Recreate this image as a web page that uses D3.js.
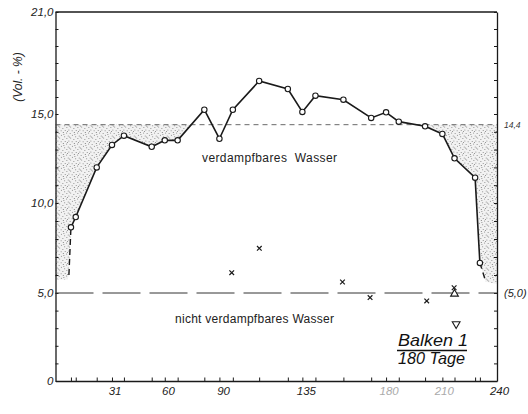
<!DOCTYPE html>
<html><head><meta charset="utf-8">
<script src="https://cdn.jsdelivr.net/npm/d3@7"></script>
<style>
body{margin:0;background:#fff;}
svg{display:block;font-family:"Liberation Sans",Arial,sans-serif;}
</style></head>
<body><svg id="c" width="528" height="414"></svg>
<script>
// ---- data ----
const days  = [8.4, 11, 22.4, 30.7, 37.2, 52.3, 59.4, 66.4, 80.9, 89.1, 96.4, 110.7, 126.3, 134.2, 141.3, 156.5, 171.6, 179.7, 186.6, 200.9, 210.3, 216.9, 228.1, 230.7];
const water = [8.65, 9.22, 12.0, 13.26, 13.78, 13.16, 13.52, 13.52, 15.25, 13.61, 15.25, 16.94, 16.47, 15.12, 16.08, 15.84, 14.78, 15.10, 14.57, 14.31, 13.88, 12.51, 11.42, 6.67];
const extDays   = [7.3, 233.9];     // dashed extrapolation ends (start, end)
const extValues = [6.0, 5.63];
const shadeBottom = [5.75, 5.5];    // lower edge of stippled zone at left / right border
const crossDays   = [95.8, 110.8, 156, 171, 201.8, 216.7];
const crossValues = [6.13, 7.48, 5.61, 4.74, 4.55, 5.29];
const triUp   = [{day: 216.9, v: 4.95}];
const triDown = [{day: 217.8, v: 3.24}];
const evapLimit = 14.4;
const nonEvap = 5.0;
const yTickValues = [0, 5, 10, 15, 21];
const yTickLabels = ["0", "5,0", "10,0", "15,0", "21,0"];
const xTickValues = [31, 60, 90, 135, 180, 210, 240];
const xTickLabels = ["31", "60", "90", "135", "180", "210", "240"];

// ---- scales ----
const svg = d3.select("#c");
const x = d3.scaleLinear().domain([0, 240]).range([55.5, 497]);
const y = d3.scaleLinear().domain([0, 5, 10, 15, 21]).range([381, 293, 203, 114, 12]);
const ink = "#1a1a1a";

// stipple pattern
const defs = svg.append("defs");
const pat = defs.append("pattern").attr("id","stip").attr("patternUnits","userSpaceOnUse")
  .attr("width",11).attr("height",11);
const dots = [[0.6,0.9],[4.1,1.6],[8.3,0.4],[2.2,3.9],[6.4,3.2],[9.7,4.8],[0.9,6.6],[4.7,6.1],[7.9,7.4],
              [2.9,9.1],[6.1,9.8],[10.2,9.6],[3.4,5.0],[8.9,2.5],[1.5,10.4]];
dots.forEach(d=>pat.append("circle").attr("cx",d[0]).attr("cy",d[1]).attr("r",0.5).attr("fill","#777"));

const pts = days.map((d,i)=>({day:d, v:water[i]}));

// shaded regions below the 14.4 limit
function crossAt(a,b,lvl){ const t=(lvl-a.v)/(b.v-a.v); return a.day+t*(b.day-a.day); }
let li = pts.findIndex(p=>p.v>=evapLimit);
const leftCross = crossAt(pts[li-1], pts[li], evapLimit);
const leftPoly = [{day:0,v:evapLimit},{day:leftCross,v:evapLimit}]
  .concat(pts.slice(0,li).reverse())
  .concat([{day:extDays[0],v:extValues[0]},{day:extDays[0]-0.8,v:shadeBottom[0]},{day:0,v:shadeBottom[0]}]);
let ri = pts.length-1; while(pts[ri].v<evapLimit) ri--;
const rightCross = crossAt(pts[ri], pts[ri+1], evapLimit);
const rightPoly = [{day:rightCross,v:evapLimit}]
  .concat(pts.slice(ri+1))
  .concat([{day:extDays[1],v:extValues[1]},{day:240,v:shadeBottom[1]},{day:240,v:evapLimit}]);
const poly = d3.line().x(d=>x(d.day)).y(d=>y(d.v));
svg.append("path").attr("d",poly(leftPoly)+"Z").attr("fill","#f2f2f2");
svg.append("path").attr("d",poly(rightPoly)+"Z").attr("fill","#f2f2f2");
svg.append("path").attr("d",poly(leftPoly)+"Z").attr("fill","url(#stip)");
svg.append("path").attr("d",poly(rightPoly)+"Z").attr("fill","url(#stip)");

// axes
const gy = svg.append("g").attr("transform",`translate(${x(0)},0)`)
  .call(d3.axisLeft(y).tickValues(d3.range(0,22,1)).tickSizeInner(-3).tickSizeOuter(0).tickFormat(""));
const gyl = svg.append("g").attr("transform",`translate(${x(0)},0)`)
  .call(d3.axisLeft(y).tickValues(yTickValues).tickSize(0).tickPadding(2).tickFormat((d,i)=>yTickLabels[i]));
const gr = svg.append("g").attr("transform",`translate(${x(240)},0)`)
  .call(d3.axisRight(y).tickValues(d3.range(0,22,1)).tickSizeInner(-3).tickSizeOuter(0).tickFormat(""));
const gx = svg.append("g").attr("transform",`translate(0,${y(0)})`)
  .call(d3.axisBottom(x).tickValues(days).tickSizeInner(-3.5).tickSizeOuter(0).tickFormat(""));
const gxl = svg.append("g").attr("transform",`translate(0,${y(0)})`)
  .call(d3.axisBottom(x).tickValues(xTickValues).tickSize(0).tickPadding(6).tickFormat((d,i)=>xTickLabels[i]));
[gy,gyl,gr,gx,gxl].forEach(g=>{
  g.select(".domain").attr("stroke",ink).attr("stroke-width",1.3);
  g.selectAll(".tick line").attr("stroke",ink).attr("stroke-width",1);
  g.selectAll("text").attr("font-size",11.5).attr("font-style","italic").attr("fill","#222");
});
gxl.selectAll(".tick text").attr("dx",2).attr("fill",(d)=> (d===180||d===210)?"#aaa":"#222");
gyl.select(".domain").remove(); gxl.select(".domain").remove();
// top frame
svg.append("line").attr("x1",x(0)).attr("x2",x(240)).attr("y1",y(21)).attr("y2",y(21))
  .attr("stroke",ink).attr("stroke-width",1.3);

// reference lines
svg.append("line").attr("x1",x(0)).attr("x2",x(240)).attr("y1",y(evapLimit)).attr("y2",y(evapLimit))
  .attr("stroke","#444").attr("stroke-width",0.8).attr("stroke-dasharray","5,4");
svg.append("line").attr("x1",x(0)).attr("x2",x(240)).attr("y1",y(nonEvap)).attr("y2",y(nonEvap))
  .attr("stroke","#333").attr("stroke-width",1).attr("stroke-dasharray","38,9");
svg.append("text").attr("x",x(240)+7).attr("y",y(evapLimit)+3).attr("font-size",8.5)
  .attr("font-style","italic").attr("fill","#333").text("14,4");
svg.append("text").attr("x",x(240)+7).attr("y",y(nonEvap)+4).attr("font-size",11)
  .attr("font-style","italic").attr("fill","#222").text("(5,0)");

// y title
svg.append("text").attr("transform","translate(22,77) rotate(-90)").attr("text-anchor","middle")
  .attr("font-size",12).attr("font-style","italic").attr("fill","#222").text("(Vol. - %)");

// data line
svg.append("path").datum(pts).attr("d",poly).attr("fill","none").attr("stroke",ink).attr("stroke-width",1.6);
svg.append("path").datum([{day:extDays[0],v:extValues[0]},pts[0]]).attr("d",poly).attr("fill","none")
  .attr("stroke",ink).attr("stroke-width",1.4).attr("stroke-dasharray","6,4");
svg.append("path").datum([pts[pts.length-1],{day:extDays[1],v:extValues[1]}]).attr("d",poly).attr("fill","none")
  .attr("stroke",ink).attr("stroke-width",1.4).attr("stroke-dasharray","6,4");
svg.selectAll("circle.pt").data(pts).join("circle").attr("class","pt")
  .attr("cx",d=>x(d.day)).attr("cy",d=>y(d.v)).attr("r",2.7)
  .attr("fill","#fff").attr("stroke",ink).attr("stroke-width",1.1);

// crosses & triangles
const xsym = d3.symbol(d3.symbolX, 16);
svg.selectAll("path.cx").data(crossDays).join("path").attr("class","cx")
  .attr("transform",(d,i)=>`translate(${x(d)},${y(crossValues[i])})`)
  .attr("d",xsym).attr("fill","none").attr("stroke",ink).attr("stroke-width",1.2);
const tri = d3.symbol(d3.symbolTriangle, 26);
svg.selectAll("path.tu").data(triUp).join("path").attr("class","tu")
  .attr("transform",d=>`translate(${x(d.day)},${y(d.v)})`).attr("d",tri)
  .attr("fill","#fff").attr("stroke",ink).attr("stroke-width",1.1);
svg.selectAll("path.td").data(triDown).join("path").attr("class","td")
  .attr("transform",d=>`translate(${x(d.day)},${y(d.v)}) rotate(180)`).attr("d",tri)
  .attr("fill","#fff").attr("stroke",ink).attr("stroke-width",1.1);

// labels
svg.append("text").attr("x",202).attr("y",162).attr("font-size",12).attr("fill","#222")
  .attr("textLength",135).attr("lengthAdjust","spacing").attr("xml:space","preserve").text("verdampfbares  Wasser");
svg.append("text").attr("x",175).attr("y",323).attr("font-size",12).attr("fill","#222")
  .attr("textLength",159).attr("lengthAdjust","spacing").text("nicht verdampfbares Wasser");
svg.append("text").attr("x",398).attr("y",346).attr("font-size",17).attr("font-style","italic").attr("fill","#111")
  .attr("textLength",70).attr("lengthAdjust","spacingAndGlyphs").text("Balken 1");
svg.append("line").attr("x1",397).attr("x2",467).attr("y1",350.5).attr("y2",350.5).attr("stroke","#111").attr("stroke-width",1.4);
svg.append("text").attr("x",398).attr("y",364).attr("font-size",17).attr("font-style","italic").attr("fill","#111")
  .attr("textLength",67).attr("lengthAdjust","spacingAndGlyphs").text("180 Tage");
</script></body></html>
